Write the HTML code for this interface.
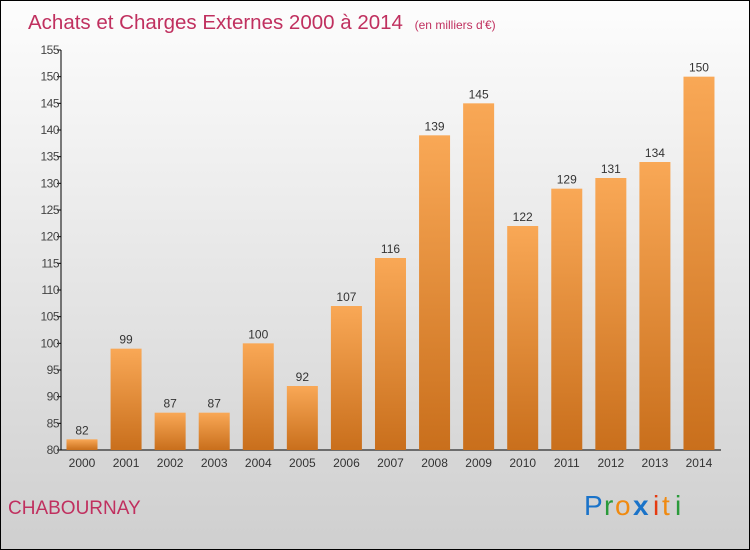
<!DOCTYPE html>
<html><head><meta charset="utf-8"><style>
html,body{margin:0;padding:0}
body{width:750px;height:550px;overflow:hidden}
#wrap{position:relative;width:748px;height:548px;border:1px solid #000;background:linear-gradient(#fdfdfd,#cfcfcf);font-family:"Liberation Sans",sans-serif}
</style></head><body>
<div id="wrap">
<svg width="748" height="548" style="position:absolute;left:0;top:0">
<defs><linearGradient id="bg" x1="0" y1="0" x2="0" y2="1"><stop offset="0" stop-color="#f9a856"/><stop offset="1" stop-color="#c96f1c"/></linearGradient></defs>
<text x="27" y="28" font-size="20.5" fill="#c0305f">Achats et Charges Externes 2000 à 2014 <tspan font-size="12" dx="6">(en milliers d'€)</tspan></text>
<text x="7" y="513" font-size="19" fill="#c0305f">CHABOURNAY</text>
<g font-size="28" font-family="'Liberation Sans',sans-serif">
<text x="583" y="514" fill="#1a73c9">P</text><text x="603" y="514" fill="#2a9a3a">r</text><text x="614" y="514" fill="#f08a10">o</text><text x="632" y="514" fill="#1a73c9" font-weight="bold">x</text><text x="652" y="514" fill="#e53a10">i</text><text x="661" y="514" fill="#f08a10">t</text><text x="674" y="514" fill="#2a9a3a">i</text>
</g>
<g id="plot"></g>
</svg>
</div>
<script>
const categories=["2000","2001","2002","2003","2004","2005","2006","2007","2008","2009","2010","2011","2012","2013","2014"];
const values=[82,99,87,87,100,92,107,116,139,145,122,129,131,134,150];
const ticks=[80,85,90,95,100,105,110,115,120,125,130,135,140,145,150,155];
const NS="http://www.w3.org/2000/svg";
const g=document.getElementById('plot');
const y=v=>449-(v-80)*(400/75);
const x=i=>81+i*44.07;
function mk(t,a){const e=document.createElementNS(NS,t);for(const k in a)e.setAttribute(k,a[k]);g.appendChild(e);return e;}
let ax=mk('line',{x1:60,y1:49,x2:60,y2:449,stroke:'#000'});


let bx=mk('line',{x1:60,y1:449,x2:720,y2:449,stroke:'#000'});


ticks.forEach(t=>{
 const tk=mk('line',{x1:56,y1:y(t),x2:60,y2:y(t),stroke:'#000'});
 
 
 const tl=mk('text',{x:58,y:y(t)+4,'font-size':12,'text-anchor':'end',fill:'#444','letter-spacing':'-0.5'});
 tl.textContent=t;
 
 
});
categories.forEach((c,i)=>{
 const b=mk('rect',{x:x(i)-15.5,y:y(values[i]),width:31,height:449-y(values[i]),fill:'url(#bg)'});
 
 
 const v=mk('text',{x:x(i),y:y(values[i])-5,'font-size':12,'text-anchor':'middle',fill:'#333'});
 v.textContent=values[i];
 
 
 const l=mk('text',{x:x(i),y:466,'font-size':12,'text-anchor':'middle',fill:'#333'});
 l.textContent=c;
 
 
});
</script>
</body></html>
